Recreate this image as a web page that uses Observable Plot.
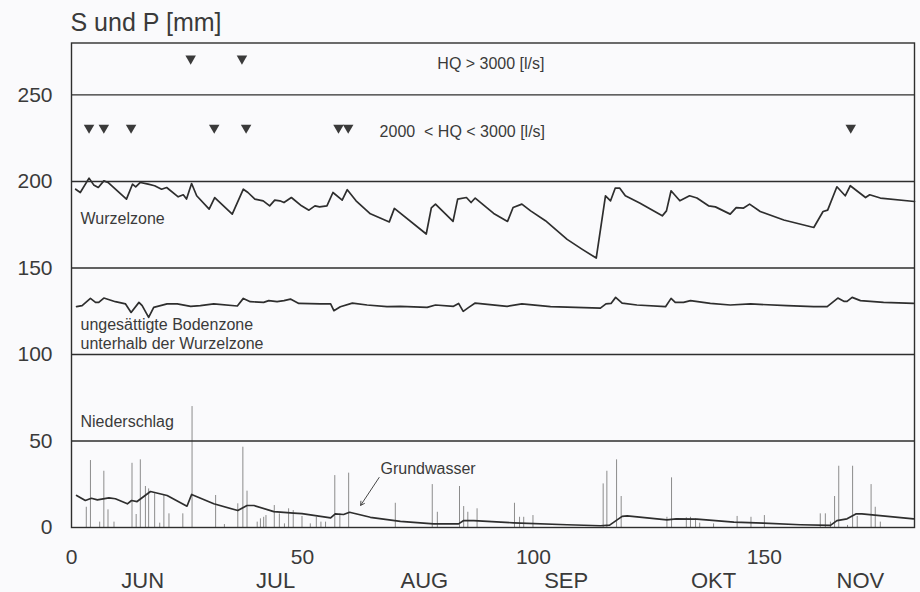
<!DOCTYPE html>
<html>
<head>
<meta charset="utf-8">
<script src="https://cdn.jsdelivr.net/npm/d3@7"></script>
<script src="https://cdn.jsdelivr.net/npm/@observablehq/plot@0.6"></script>
<style>
  html, body { margin: 0; padding: 0; background: #fafafc; }
  #chart { width: 920px; height: 592px; }
</style>
</head>
<body>
<div id="chart"></div>
<script>
// ---- Data ----
const yTicks = [0, 50, 100, 150, 200, 250];
const xTicks = [0, 50, 100, 150];
const monthNames = ["JUN", "JUL", "AUG", "SEP", "OKT", "NOV"];
const monthPos = [15.4, 44.2, 76.4, 107.1, 139.0, 170.8];

// Wurzelzone (root zone storage)
const wurzelDay = [0.9,1.9,3.8,4.8,5.8,7.0,7.9,11.9,13.2,13.9,14.9,16.6,18.0,19.5,20.6,23.1,24.2,24.9,26.0,27.1,29.8,31.0,34.8,37.2,38.2,39.7,41.5,42.9,44.0,45.1,46.0,47.6,49.8,51.4,52.7,53.7,55.3,56.6,58.6,59.7,61.6,64.7,68.8,69.9,76.8,77.9,78.8,82.6,83.6,85.5,86.5,87.4,91.4,94.4,95.6,97.5,99.4,102.6,107.3,110.5,113.6,115.6,116.7,117.7,118.7,119.9,123.0,127.9,128.8,129.8,131.7,133.8,135.4,137.9,139.4,142.6,143.9,145.5,146.8,149.1,154.2,160.7,162.7,163.7,165.7,167.5,168.6,171.9,172.8,175.1,182.5];
const wurzelVal = [195.5,193.6,201.9,198,196.5,200.3,199.4,189.8,198.4,196.9,199.4,198.4,197.5,195.5,196.5,191.1,192.3,189.8,198.8,191.7,184,190.7,181.1,195.5,193.6,189.8,188.8,185.9,189.2,188.8,187.8,190.7,185.9,183.4,185.9,185.3,185.9,193.6,189.2,195.2,188.8,181.3,176.6,184.4,169.6,184.7,186.9,176.9,189.8,190.7,187.8,190.4,181.5,176.9,184.9,186.9,183.0,177.3,166.5,160.9,155.7,191.7,188.8,196.1,196.1,191.7,187.5,180.1,183.0,194.6,188.8,191.7,190.4,185.9,185.3,181.1,184.9,184.6,186.9,182.6,177.7,173.4,182.6,183.4,196.9,191.7,197.5,190.7,192.3,190.4,188.4];

// ungesättigte Bodenzone unterhalb der Wurzelzone
const bodenDay = [1.1,2.3,4.1,5.2,5.9,7.0,9.5,11.7,12.9,14.6,15.3,16.7,17.8,20.7,22.9,25.8,27.9,30.8,35.9,37.2,38.7,41.6,42.7,44.5,46.0,47.4,49.2,53.9,56.1,56.8,58.2,60.8,64.0,68.3,71.2,77.0,78.8,82.7,83.8,84.8,86.0,87.4,94.3,97.5,103.7,114.5,115.7,116.8,117.8,119.2,122.4,128.6,129.8,130.7,132.5,134.0,138.3,142.6,147.0,154.9,160.7,163.6,165.9,167.2,167.9,169.0,170.8,175.8,182.3];
const bodenVal = [127.6,128.2,132.4,130.1,130.1,132.6,130.5,129.2,124.3,130.1,128.2,121.4,127.2,129.2,129.2,127.8,128.2,129.2,128.0,132.4,130.5,130.1,131.1,130.5,131.1,132.0,129.5,129.2,129.2,125.3,127.6,129.7,128.6,127.6,127.8,127.2,128.6,127.8,129.5,124.9,127.2,129.7,127.8,129.2,127.6,126.8,129.2,129.5,133.0,129.7,128.6,127.6,132.4,130.1,130.1,131.1,129.5,128.6,129.2,128.2,127.6,127.6,132.6,130.7,130.7,133.0,131.1,130.1,129.5];

// Grundwasser
const grundDay = [1.1,3.0,4.3,5.6,8.1,9.5,12.1,13.0,14.2,17.1,20.7,25.0,26.0,30.8,36.0,38.0,39.5,43.8,48.1,49.9,56.1,57.1,58.9,60.2,64.7,71.2,78.4,83.8,84.9,87.1,95.7,107.3,114.5,116.5,119.2,120.3,128.9,130.9,135.4,143.4,149.8,157.8,164.3,165.7,167.9,169.9,171.1,182.3];
const grundVal = [18.5,15.6,16.9,16.0,17.1,16.6,13.7,15.6,15.0,20.8,18.5,12.3,19.1,13.7,9.8,12.7,12.7,9.2,8.3,8.0,5.6,7.9,7.5,8.8,5.9,3.5,2.1,2.1,4.0,4.0,2.7,1.6,1.0,1.4,6.4,6.7,4.4,5.0,4.8,3.1,2.5,1.6,1.2,4.0,5.0,7.9,7.9,5.0];

// Niederschlag (daily precipitation bars)
const regenDay = [3.2,4.1,6.1,7.0,7.9,9.2,13.1,14.0,14.9,16.0,16.7,18.0,19.1,20.0,21.1,24.1,26.1,31.2,33.1,36.0,37.1,38.0,40.2,40.9,41.6,42.1,43.9,45.0,46.1,47.0,48.0,49.9,51.7,53.0,54.0,55.0,57.0,58.1,60.0,70.1,78.1,79.2,84.0,84.9,85.8,87.8,95.9,97.0,97.9,99.9,115.1,115.9,118.0,119.0,128.9,129.9,133.1,134.0,135.1,136.0,139.0,144.1,147.1,150.0,162.1,163.2,164.3,165.2,166.1,168.0,169.1,170.1,173.1,174.0,175.1];
const regenVal = [11.7,38.7,3.1,32.5,10.2,3.1,37.1,7.5,39.1,23.7,22.3,19.5,2.5,18.5,7.9,7.9,69.9,18.5,1.7,13.7,46.4,21.0,3.1,5.0,5.9,6.9,12.7,7.9,2.1,10.8,9.8,6.4,2.1,5.9,3.1,3.1,30.0,7.9,31.4,14.0,24.8,8.8,23.7,12.1,8.8,10.8,14.0,5.9,5.9,6.9,25.2,32.5,39.1,17.9,5.9,28.7,5.6,5.9,5.0,2.5,2.1,6.4,5.9,6.9,7.9,7.9,3.1,17.9,35.4,1.2,35.4,6.4,24.8,11.7,3.1];

// Hochwasser-Ereignisse
const hq3000Day = [25.8, 36.9];
const hq3000Level = 271;
const hq2000Day = [3.8, 7.0, 12.9, 30.9, 37.8, 57.8, 59.9, 168.7];
const hq2000Level = 231;

// Annotations (data units)
const labelText = ["HQ > 3000 [l/s]", "2000\u00a0 < HQ < 3000 [l/s]", "Wurzelzone", "ungesättigte Bodenzone", "unterhalb der Wurzelzone", "Niederschlag", "Grundwasser"];
const labelDay  = [79.2, 66.7, 1.95, 1.95, 1.95, 1.95, 66.9];
const labelVal  = [267.9, 228.6, 178.4, 117.2, 106.2, 61.2, 34.1];
const arrowFrom = [66.6, 28.9];
const arrowTo   = [62.6, 12.8];

// ---- Build tables ----
const zip = (xs, ys) => xs.map((x, i) => ({x, y: ys[i]}));
const wurzel = zip(wurzelDay, wurzelVal);
const boden = zip(bodenDay, bodenVal);
const grund = zip(grundDay, grundVal);
const regen = zip(regenDay, regenVal);
const hq3000 = hq3000Day.map(x => ({x, y: hq3000Level}));
const hq2000 = hq2000Day.map(x => ({x, y: hq2000Level}));
const labels = labelText.map((t, i) => ({t, x: labelDay[i], y: labelVal[i]}));

const ink = "#2e2e2e";
const textInk = "#3a3a3a";

const chart = Plot.plot({
  width: 920,
  height: 592,
  marginTop: 42.5,
  marginBottom: 65,
  marginLeft: 71,
  marginRight: 6,
  x: {domain: [0, 182.5]},
  y: {domain: [0, 280]},
  style: {fontFamily: "'Liberation Sans', Arial, Helvetica, sans-serif", background: "transparent", color: textInk},
  marks: [
    Plot.ruleX(regen, {x: "x", y1: 0, y2: "y", stroke: "#8c8c8c", strokeWidth: 1}),
    Plot.ruleY(yTicks.filter(d => d > 0), {stroke: ink, strokeWidth: 1.4}),
    Plot.frame({stroke: ink, strokeWidth: 1.4}),
    Plot.line(wurzel, {x: "x", y: "y", stroke: ink, strokeWidth: 1.7}),
    Plot.line(boden, {x: "x", y: "y", stroke: ink, strokeWidth: 1.7}),
    Plot.line(grund, {x: "x", y: "y", stroke: ink, strokeWidth: 1.7}),
    Plot.dot(hq3000, {x: "x", y: "y", symbol: "triangle", rotate: 180, r: 3.9, fill: "#3a3a3a", stroke: null}),
    Plot.dot(hq2000, {x: "x", y: "y", symbol: "triangle", rotate: 180, r: 3.9, fill: "#3a3a3a", stroke: null}),
    Plot.text(labels, {x: "x", y: "y", text: "t", textAnchor: "start", lineAnchor: "middle", fontSize: 16, fill: textInk}),
    Plot.arrow([{x1: arrowFrom[0], y1: arrowFrom[1], x2: arrowTo[0], y2: arrowTo[1]}], {x1: "x1", y1: "y1", x2: "x2", y2: "y2", stroke: "#333", strokeWidth: 0.9, headLength: 7, bend: 0}),
    Plot.axisY({ticks: yTicks, tickSize: 0, tickPadding: 19, fontSize: 21, label: null}),
    Plot.axisX({ticks: xTicks, tickSize: 0, tickPadding: 22, fontSize: 21, label: null}),
    Plot.axisX({ticks: monthPos, tickFormat: d => monthNames[monthPos.indexOf(d)], tickSize: 0, tickPadding: 45, fontSize: 22, label: null}),
    Plot.text(["S und P [mm]"], {frameAnchor: "top-left", dx: -1, dy: -20.5, fontSize: 25, textAnchor: "start", lineAnchor: "middle", fill: textInk})
  ]
});
document.getElementById("chart").appendChild(chart);
</script>
</body>
</html>
